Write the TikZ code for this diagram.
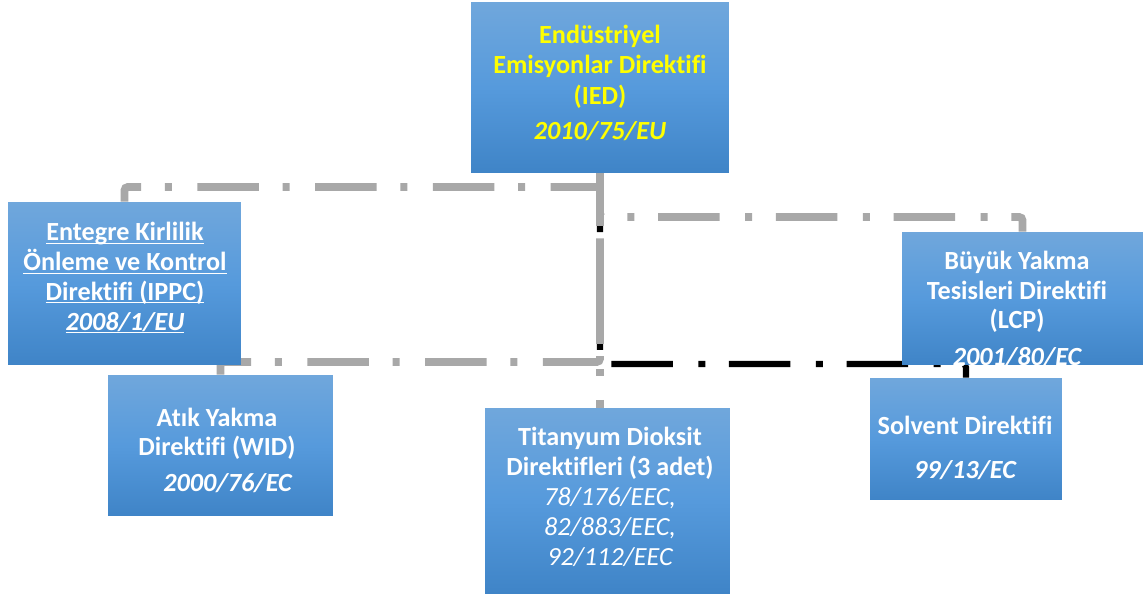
\documentclass[tikz,border=0pt]{standalone}
\usepackage{fontspec}
\setmainfont{Carlito}[Ligatures=NoCommon]
\usepackage{tikz}
\usepackage{color}

\definecolor{boxtop}{RGB}{112,167,220}
\definecolor{boxmid}{RGB}{86,154,220}
\definecolor{boxbot}{RGB}{63,132,199}
\definecolor{linegray}{RGB}{168,168,168}
\definecolor{iedyellow}{RGB}{255,255,0}

\newcommand{\undl}[1]{\underline{\raisebox{0pt}[\height][0pt]{#1}}}

\pgfdeclarelayer{links}
\pgfsetlayers{links,main}

\begin{document}
\begin{tikzpicture} [x=0.02cm, y=-0.02cm,
  box/.style={rectangle, inner sep=0pt, top color=boxtop, bottom color=boxbot, middle color=boxmid},
  txt/.style={inner sep=0pt, align=center, text=white, font=\fontsize{14.9}{17}\selectfont\bfseries},
  link/.style={line width=4.5pt, dash pattern=on 35pt off 14.5pt on 4pt off 13.5pt, rounded corners=2pt}]

\useasboundingbox (0,0) rectangle (1143,595);

\node [box, minimum width=5.16cm, minimum height=3.42cm] (ied) at (600,87.5) {};
\node [box, minimum width=4.66cm, minimum height=3.26cm] (ippc) at (124.5,283.5) {};
\node [box, minimum width=4.5cm, minimum height=2.82cm] (wid) at (220.5,445.5) {};
\node [box, minimum width=4.9cm, minimum height=3.72cm] (tio) at (607.5,501) {};
\node [box, minimum width=4.82cm, minimum height=2.66cm] (lcp) at (1022.5,298.5) {};
\node [box, minimum width=3.84cm, minimum height=2.44cm] (solv) at (966,439) {};

\coordinate (ippcbend) at (600,187);
\coordinate (lcpbend) at (600,217);
\coordinate (widbend) at (600,362);
\coordinate (solvbend) at (600,364);

\begin{pgfonlayer}{links}
\draw [link, line width=3.5pt, black, dash phase=20pt] (ied.south) -- (solvbend) -| (solv.north);
\draw [link, linegray] (ied.south) -- (ippcbend) -| (ippc.north);
\draw [link, linegray, dash phase=10pt] (ied.south) -- (lcpbend) -| (lcp.north);
\draw [link, linegray, dash phase=30pt] (ied.south) -- (widbend) -| (wid.north);
\draw [link, linegray, dash phase=5pt] (ied.south) -- (ied.south |- tio.north);
\end{pgfonlayer}

\node [txt, text=iedyellow] (iedtext) at (600,83) {Endüstriyel\\Emisyonlar Direktifi\\[1pt](IED)\\[3pt]\itshape 2010/75/EU};
\node [txt] (ippctext) at (125,278) {\undl{Entegre Kirlilik}\\\undl{Önleme ve Kontrol}\\\undl{Direktifi (IPPC)}\\\undl{\itshape 2008/1/EU}};
\node [txt] (widtext) at (217,450) {Atık Yakma\\Direktifi (WID)\\[3pt]\hspace*{12pt}\itshape 2000/76/EC};
\node [txt] (tiotext) at (610,497) {Titanyum Dioksit\\Direktifleri (3 adet)\\\mdseries\itshape 78/176/EEC,\\\mdseries\itshape 82/883/EEC,\\\mdseries\itshape 92/112/EEC};
\node [txt] (lcptext) at (1017,309) {Büyük Yakma\\Tesisleri Direktifi\\(LCP)\\[4pt]\itshape 2001/80/EC};
\node [txt] (solvtext) at (965,448) {Solvent Direktifi\\[8pt]\itshape 99/13/EC};
\end{tikzpicture}
\end{document}
